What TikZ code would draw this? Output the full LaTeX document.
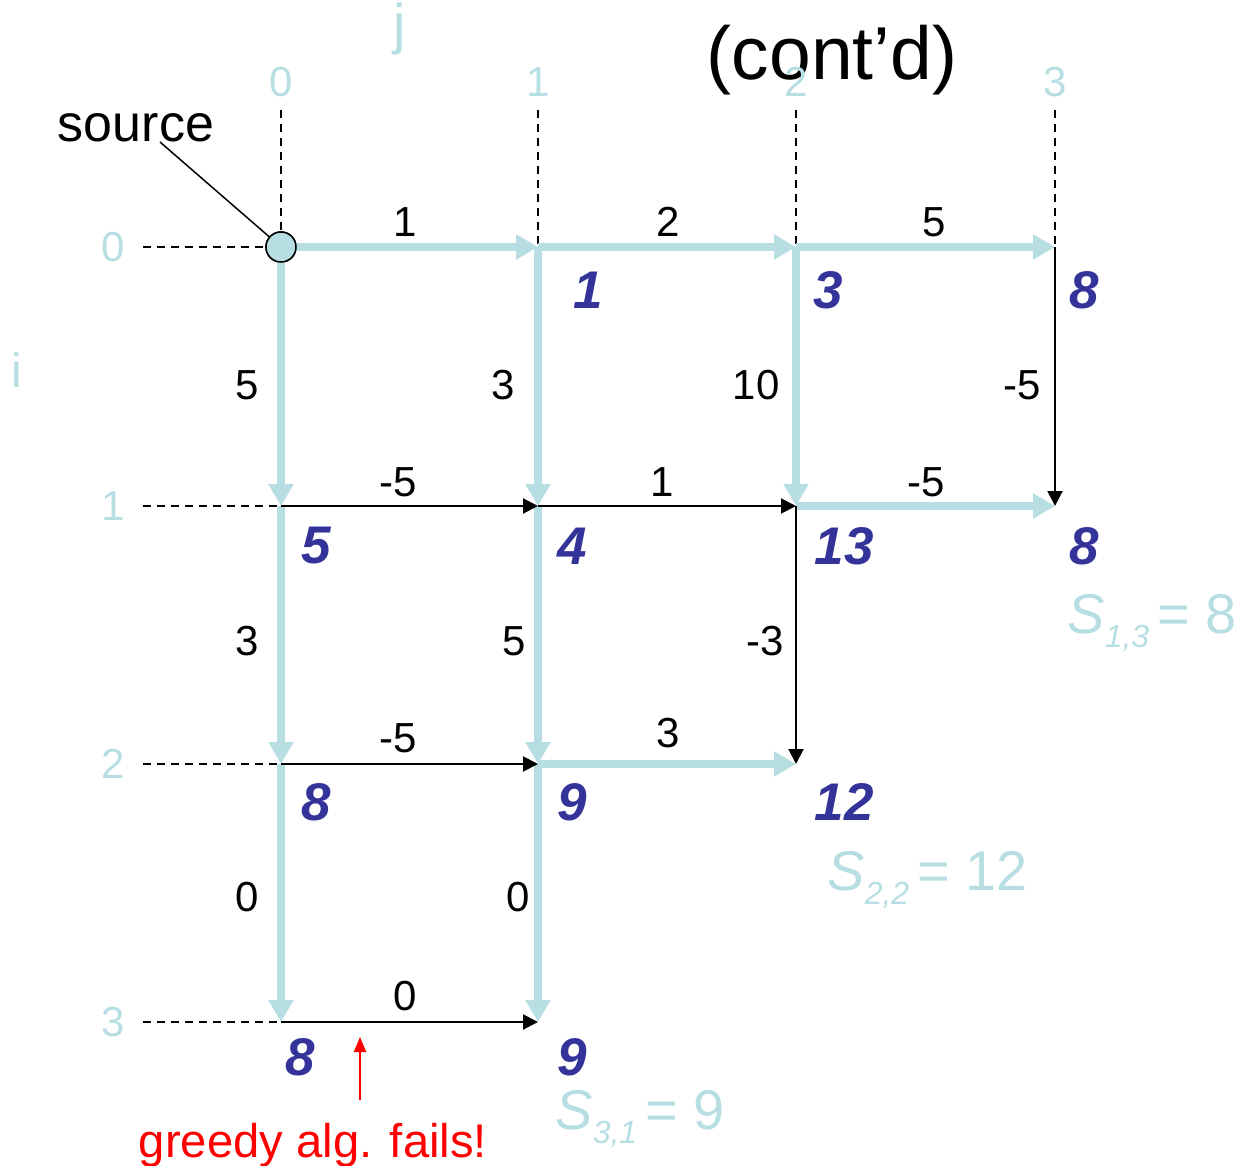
\documentclass[tikz,border=0pt]{standalone}
\usepackage{fontspec}
\setmainfont{Liberation Sans}
\usetikzlibrary{arrows.meta}
\definecolor{lb}{RGB}{183,222,226}
\definecolor{db}{RGB}{51,51,153}
\newcommand\Slab[2]{\textit{S}\raisebox{-7pt}{\fontsize{16pt}{18pt}\selectfont\itshape #1}\hspace{4pt}= #2}
\begin{document}
\begin{tikzpicture}[x=0.5pt,y=-0.5pt,
  bluearr/.style={draw=lb,line width=4pt,-{Triangle[length=11pt,width=12pt]}},
  blkarr/.style={draw=black,line width=1pt,-{Triangle[length=7.5pt,width=7.5pt]}},
  guide/.style={draw=black,line width=0.75pt,dash pattern=on 4pt off 3pt},
  lab/.style={font=\fontsize{21pt}{24pt}\selectfont,inner sep=0pt},
  axis/.style={font=\fontsize{21pt}{24pt}\selectfont,text=lb,inner sep=0pt},
  axisname/.style={font=\fontsize{24pt}{28pt}\selectfont,text=lb,inner sep=0pt},
  val/.style={font=\fontsize{26.5pt}{30pt}\selectfont\bfseries\itshape,text=db,inner sep=0pt},
  slab/.style={font=\fontsize{28pt}{32pt}\selectfont,text=lb,inner sep=0pt,anchor=base west},
]
\useasboundingbox (0,0) rectangle (1237,1166);

% grid points
\foreach \i/\y in {0/247,1/506,2/764,3/1022}{
  \foreach \j/\x in {0/281,1/538,2/796,3/1055}{
    \coordinate (n\i\j) at (\x,\y);
  }
}
% guide ends
\coordinate (t0) at (281,110);
\coordinate (t1) at (538,110);
\coordinate (t2) at (796,110);
\coordinate (t3) at (1055,110);
\coordinate (l0) at (143,247);
\coordinate (l1) at (143,506);
\coordinate (l2) at (143,764);
\coordinate (l3) at (143,1022);

% title
\node[font=\fontsize{37.5pt}{42pt}\selectfont,anchor=base,inner sep=0pt] (title) at (832,80) {(cont’d)};

% dashed guides
\node[circle,draw=black,fill=lb,line width=0.75pt,minimum size=15pt,inner sep=0pt] (src) at (n00) {};
\draw[guide] (t0) -- (src);
\draw[guide] (t1) -- (n01);
\draw[guide] (t2) -- (n02);
\draw[guide] (t3) -- (n03);
\draw[guide] (l0) -- (src);
\draw[guide] (l1) -- (n10);
\draw[guide] (l2) -- (n20);
\draw[guide] (l3) -- (n30);

% blue edges
\draw[bluearr] (n00) -- (n01);
\draw[bluearr] (n01) -- (n02);
\draw[bluearr] (n02) -- (n03);
\draw[bluearr] (n12) -- (n13);
\draw[bluearr] (n21) -- (n22);
\draw[bluearr] (n00) -- (n10);
\draw[bluearr] (n10) -- (n20);
\draw[bluearr] (n20) -- (n30);
\draw[bluearr] (n01) -- (n11);
\draw[bluearr] (n11) -- (n21);
\draw[bluearr] (n21) -- (n31);
\draw[bluearr] (n02) -- (n12);

% black edges
\draw[blkarr] (n10) -- (n11);
\draw[blkarr] (n11) -- (n12);
\draw[blkarr] (n20) -- (n21);
\draw[blkarr] (n30) -- (n31);
\draw[blkarr] (n03) -- (n13);
\draw[blkarr] (n12) -- (n22);

% source circle on top
\node[circle,draw=black,fill=lb,line width=0.75pt,minimum size=15pt,inner sep=0pt] at (n00) {};

% edge labels
\node[lab] (e1) at (405,222) {1};
\node[lab] (e2) at (668,222) {2};
\node[lab] (e3) at (934,222) {5};
\node[lab] (e4) at (398,482) {-5};
\node[lab] (e5) at (662,482) {1};
\node[lab] (e6) at (926,482) {-5};
\node[lab] (e7) at (398,738) {-5};
\node[lab] (e8) at (668,733) {3};
\node[lab] (e9) at (405,996) {0};
\node[lab] (v1) at (247,385) {5};
\node[lab] (v2) at (503,385) {3};
\node[lab] (v3) at (756,385) {10};
\node[lab] (v4) at (1022,385) {-5};
\node[lab] (v5) at (247,641) {3};
\node[lab] (v6) at (514,641) {5};
\node[lab] (v7) at (765,641) {-3};
\node[lab] (v8) at (247,897) {0};
\node[lab] (v9) at (518,897) {0};

% values
\node[val] (a01) at (588,290) {1};
\node[val] (a02) at (828,290) {3};
\node[val] (a03) at (1084,290) {8};
\node[val] (a10) at (316,546) {5};
\node[val] (a11) at (572,546) {4};
\node[val] (a12) at (844,546) {13};
\node[val] (a13) at (1084,546) {8};
\node[val] (a20) at (316,802) {8};
\node[val] (a21) at (572,802) {9};
\node[val] (a22) at (844,802) {12};
\node[val] (a30) at (300,1057) {8};
\node[val] (a31) at (572,1057) {9};

% S labels
\node[slab] (s13) at (1067,633) {\Slab{1,3}{8}};
\node[slab] (s22) at (827,890) {\Slab{2,2}{12}};
\node[slab] (s31) at (555,1129) {\Slab{3,1}{9}};

% axis labels
\node[font=\fontsize{28pt}{32pt}\selectfont,text=lb,inner sep=0pt] (jl) at (400,29) {j};
\node[axisname] (il) at (17,370) {i};
\node[axis] (c0) at (281,82) {0};
\node[axis] (c1) at (538,82) {1};
\node[axis] (c2) at (796,82) {2};
\node[axis] (c3) at (1055,82) {3};
\node[axis] (r0) at (113,247) {0};
\node[axis] (r1) at (113,506) {1};
\node[axis] (r2) at (113,764) {2};
\node[axis] (r3) at (113,1022) {3};

% source label
\node[font=\fontsize{26pt}{30pt}\selectfont,anchor=base,inner sep=0pt] (srclab) at (136,142) {source};
\coordinate (srcl) at (160,142);
\draw[line width=0.75pt] (srcl) -- (src);

% greedy note
\node[font=\fontsize{23.6pt}{27pt}\selectfont,text=red,anchor=base,inner sep=0pt] (greedy) at (313,1157) {greedy alg. fails!};
\coordinate (rb) at (360,1100);
\coordinate (rt) at (360,1037);
\draw[red,line width=1pt,-{Triangle[length=7.5pt,width=6pt]}] (rb) -- (rt);
\end{tikzpicture}
\end{document}
